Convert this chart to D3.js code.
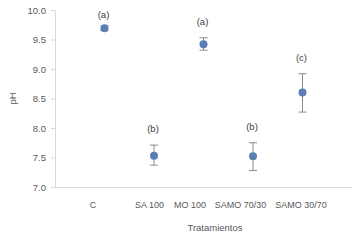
<!DOCTYPE html>
<html>
<head>
<meta charset="utf-8">
<script src="https://cdn.jsdelivr.net/npm/d3@7"></script>
<style>
  html, body { margin: 0; padding: 0; background: #fff; }
  svg { display: block; font-family: "Liberation Sans", Arial, sans-serif; }
</style>
</head>
<body>
<div id="chart"></div>
<script>
// Data
const treatments = ['C', 'SA 100', 'MO 100', 'SAMO 70/30', 'SAMO 30/70'];
const phMean     = [9.69, 7.53, 9.42, 7.52, 8.60];
const phErrUp    = [0.04, 0.18, 0.11, 0.23, 0.32];
const phErrDown  = [0.04, 0.16, 0.10, 0.24, 0.33];
const groups     = ['(a)', '(b)', '(a)', '(b)', '(c)'];
const yTicks     = [7.0, 7.5, 8.0, 8.5, 9.0, 9.5, 10.0];

// category labels in the source sit a bit left of their markers
const labelShift = [-12, -5, -14, -13, -2];

const width = 356, height = 241;
const margin = { top: 10, right: 4, bottom: 54, left: 55 };

const svg = d3.select('#chart').append('svg')
  .attr('width', width).attr('height', height);

const x = d3.scaleLinear().domain([0, treatments.length + 1])
  .range([margin.left, width - margin.right]);
const y = d3.scaleLinear().domain([7, 10])
  .range([height - margin.bottom, margin.top]);

const textColor = '#595959';
const axisColor = '#d9d9d9';

// y axis
const yAxis = svg.append('g')
  .attr('transform', `translate(${margin.left},0)`)
  .call(d3.axisLeft(y).tickValues(yTicks).tickFormat(d3.format('.1f')).tickSize(4).tickPadding(5));
yAxis.select('.domain').attr('stroke', axisColor);
yAxis.selectAll('.tick line').attr('stroke', axisColor);
yAxis.selectAll('.tick text').attr('fill', textColor).attr('font-size', 9.5);

// x axis: base line + category labels
const xAxis = svg.append('g')
  .attr('transform', `translate(0,${y(7)})`)
  .call(d3.axisBottom(x)
    .tickValues(treatments.map((d, i) => i + 1))
    .tickFormat((d) => treatments[d - 1])
    .tickSize(0).tickPadding(15)
    .tickSizeOuter(0));
xAxis.select('.domain').attr('stroke', axisColor);
xAxis.selectAll('.tick text')
  .attr('fill', textColor).attr('font-size', 9)
  .attr('dx', (d) => labelShift[d - 1]);

// axis titles
svg.append('text')
  .attr('transform', `translate(13,${(y(7) + y(10)) / 2}) rotate(-90)`)
  .attr('text-anchor', 'middle').attr('dy', '0.35em')
  .attr('fill', textColor).attr('font-size', 9.5)
  .text('pH');

svg.append('text')
  .attr('x', 215).attr('y', 231)
  .attr('text-anchor', 'middle')
  .attr('fill', textColor).attr('font-size', 9.5)
  .text('Tratamientos');

const rows = treatments.map((t, i) => ({
  i: i + 1, mean: phMean[i], hi: phMean[i] + phErrUp[i], lo: phMean[i] - phErrDown[i], group: groups[i],
}));

// error bars
const errG = svg.append('g').attr('stroke', '#8c8c8c').attr('stroke-width', 1);
const cap = 4;
rows.forEach((d) => {
  const cx = x(d.i);
  errG.append('line').attr('x1', cx).attr('x2', cx).attr('y1', y(d.hi)).attr('y2', y(d.lo));
  errG.append('line').attr('x1', cx - cap).attr('x2', cx + cap).attr('y1', y(d.hi)).attr('y2', y(d.hi));
  errG.append('line').attr('x1', cx - cap).attr('x2', cx + cap).attr('y1', y(d.lo)).attr('y2', y(d.lo));
});

// markers
svg.append('g').selectAll('circle').data(rows).join('circle')
  .attr('cx', (d) => x(d.i))
  .attr('cy', (d) => y(d.mean))
  .attr('r', 4)
  .attr('fill', '#5a7fb4');

// significance letters
svg.append('g').selectAll('text').data(rows).join('text')
  .attr('x', (d) => x(d.i) - 1)
  .attr('y', (d) => Math.max(15, y(d.hi) - 16))
  .attr('dy', '0.35em')
  .attr('text-anchor', 'middle')
  .attr('fill', '#404040').attr('font-size', 9.5)
  .text((d) => d.group);
</script>
</body>
</html>
